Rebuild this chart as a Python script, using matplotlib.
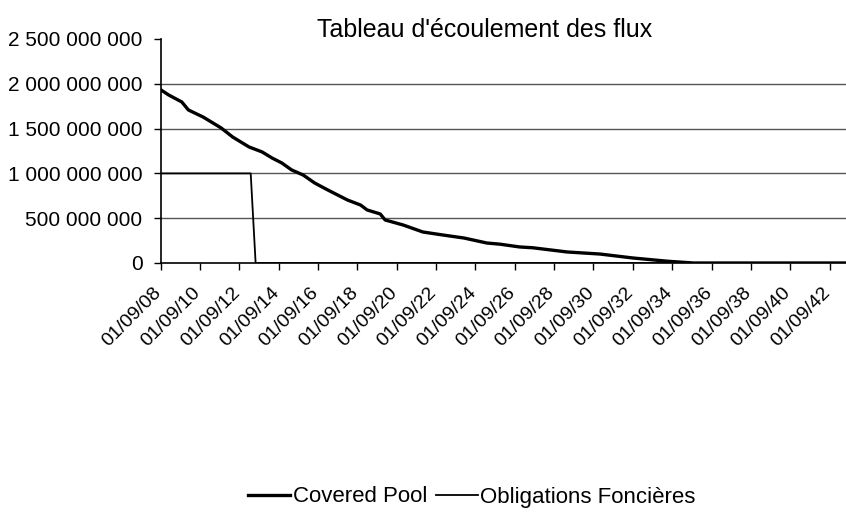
import matplotlib
matplotlib.use("Agg")
import matplotlib.pyplot as plt
import matplotlib.transforms as mtransforms
from matplotlib.ticker import FuncFormatter, FixedLocator

plt.rcParams['font.family'] = ['Liberation Sans', 'DejaVu Sans']

# Months after 01/09/08 and outstanding amounts (millions)
pool_month = [0, 5, 13, 17, 26, 37, 44, 54, 62, 68, 74, 80, 87, 94, 102, 108, 114,
              122, 126, 134, 137, 148, 160, 172, 185, 199, 207, 219, 227, 248, 268,
              288, 309, 325, 418]
pool_value = [1935, 1875, 1797, 1708, 1629, 1507, 1406, 1295, 1239, 1172, 1116, 1038,
              982, 893, 815, 759, 703, 647, 592, 547, 480, 424, 346, 313, 279, 223,
              210, 179, 170, 123, 100, 56, 20, 0, 0]

of_month = [0, 55, 58, 418]
of_value = [1000, 1000, 0, 0]

tick_labels = ["01/09/%02d" % y for y in range(8, 43, 2)]
tick_months = [24 * i for i in range(len(tick_labels))]

fig = plt.figure(figsize=(8.46, 5.15), dpi=100)
ax = fig.add_axes([160.5 / 846, 1 - 263 / 515, 1 - 160.5 / 846, (263 - 39) / 515])

ax.plot(pool_month, [v * 1e6 for v in pool_value], color="black", lw=2.4,
        label="Covered Pool", zorder=3)
ax.plot(of_month, [v * 1e6 for v in of_value], color="black", lw=1.3,
        label="Obligations Foncières", zorder=3)

ax.set_xlim(0, 418)
ax.set_ylim(0, 2.5e9)
ax.yaxis.set_major_locator(FixedLocator([0, 5e8, 1e9, 1.5e9, 2e9, 2.5e9]))
ax.yaxis.set_major_formatter(FuncFormatter(lambda v, p: f"{int(v):,}".replace(",", " ")))
for yv in [5e8, 1e9, 1.5e9, 2e9]:
    ax.axhline(yv, color="#555555", lw=1.0, zorder=1)

ax.tick_params(axis="x", direction="out", length=5, width=1, pad=10, labelsize=14)
ax.tick_params(axis="y", direction="out", length=5, width=1, pad=8, labelsize=15)

ax.set_xticks(tick_months)
ax.set_xticklabels(tick_labels, rotation=45, ha="right", va="top", rotation_mode="anchor")
# nudge the rotated labels a little to the left, as in the original
offset = mtransforms.ScaledTranslation(-8 / 100, 0, fig.dpi_scale_trans)
for lab in ax.get_xticklabels():
    lab.set_transform(lab.get_transform() + offset)

for s in ["top", "right"]:
    ax.spines[s].set_visible(False)
for s in ["left", "bottom"]:
    ax.spines[s].set_linewidth(1.2)

fig.text(485 / 846, 1 - 30 / 515, "Tableau d'écoulement des flux", ha="center",
         va="center", fontsize=18)

fig.legend(loc="center", bbox_to_anchor=(472 / 846, 1 - 497 / 515), ncol=2,
           frameon=False, fontsize=16, handlelength=1.9, handletextpad=0.1,
           columnspacing=0.4)

fig.savefig("out.png", dpi=100)
